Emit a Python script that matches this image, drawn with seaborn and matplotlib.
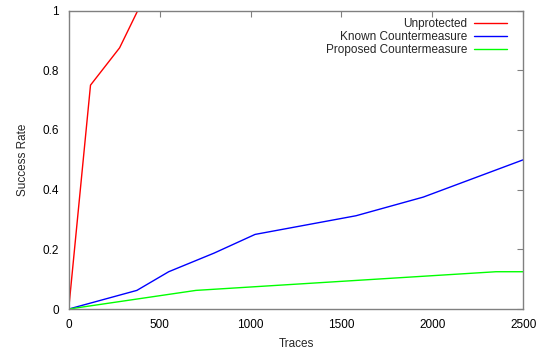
import matplotlib
matplotlib.use("Agg")
import matplotlib.pyplot as plt
import seaborn as sns
import pandas as pd

# Success rate versus number of traces for each implementation
unprotected_traces = [0, 120, 280, 380]
unprotected_rate = [0.0, 0.75, 0.875, 1.0]

known_traces = [0, 375, 550, 800, 1025, 1580, 1950, 2500]
known_rate = [0.0, 0.0625, 0.125, 0.1875, 0.25, 0.3125, 0.375, 0.5]

proposed_traces = [0, 700, 2350, 2500]
proposed_rate = [0.0, 0.0625, 0.125, 0.125]

series_names = ["Unprotected", "Known Countermeasure", "Proposed Countermeasure"]
series_colors = ["#ff0000", "#0000ff", "#00ff00"]

frames = []
for name, xs, ys in [
    (series_names[0], unprotected_traces, unprotected_rate),
    (series_names[1], known_traces, known_rate),
    (series_names[2], proposed_traces, proposed_rate),
]:
    frames.append(pd.DataFrame({"Traces": xs, "Success Rate": ys, "series": name}))
df = pd.concat(frames, ignore_index=True)

sns.set_style("white")
plt.rcParams["font.family"] = ["Liberation Sans", "DejaVu Sans"]
plt.rcParams["font.size"] = 8.5

fig = plt.figure(figsize=(5.46, 3.5), dpi=100)
ax = fig.add_axes([0.1258, 0.117, 0.8326, 0.853])

sns.lineplot(
    data=df, x="Traces", y="Success Rate", hue="series",
    hue_order=series_names, palette=series_colors,
    sort=False, estimator=None, linewidth=1.0, ax=ax,
)

ax.set_xlim(0, 2500)
ax.set_ylim(0, 1)
ax.set_xticks([0, 500, 1000, 1500, 2000, 2500])
ax.set_yticks([0, 0.2, 0.4, 0.6, 0.8, 1.0])
ax.set_yticklabels(["0", "0.2", "0.4", "0.6", "0.8", "1"])
ax.tick_params(direction="in", length=4, width=0.8, color="#808080",
               top=True, right=True, labelsize=8.5, labelcolor="black", pad=7)
for sp in ax.spines.values():
    sp.set_color("#808080")
    sp.set_linewidth(1.0)

ax.set_xlabel("Traces", fontsize=8.5, labelpad=5)
ax.set_ylabel("Success Rate", fontsize=8.5, labelpad=10)

handles, labels = ax.get_legend_handles_labels()
ax.legend(handles, labels, loc="upper right", frameon=False, markerfirst=False,
          fontsize=8.5, handlelength=2.8, handletextpad=0.55, labelspacing=0.05,
          borderaxespad=0.4, bbox_to_anchor=(0.985, 1.005))

fig.savefig("out.png", dpi=100)
